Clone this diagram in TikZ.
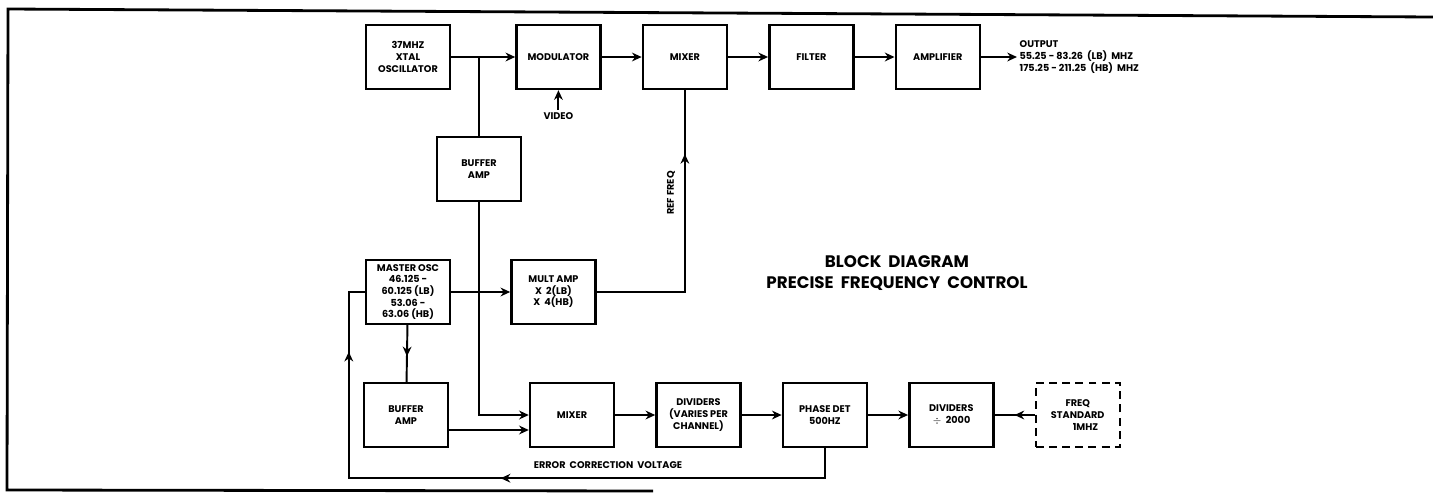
\documentclass[tikz,border=0pt]{standalone}
\usepackage{fontspec}
\setmainfont{Poppins}
\usetikzlibrary{arrows.meta,positioning,decorations.markings}
\newcommand{\boxfont}{\bfseries\fontsize{5.5}{6.6}\selectfont}
\newcommand{\titlefont}{\bfseries\fontsize{9.5}{11.5}\selectfont}

\begin{document}
\begin{tikzpicture}[x=0.02cm,y=-0.02cm,node distance=8mm,>={Stealth[length=5.5pt,width=5pt]},line width=1.1pt,
blk/.style={draw,line width=1.4pt,minimum width=1.68cm,minimum height=1.28cm,align=center,font=\boxfont,inner sep=1pt},
lbl/.style={font=\boxfont,inner sep=1pt},
title/.style={font=\titlefont,align=center},
midarrow/.style={postaction={decorate},decoration={markings,mark=at position #1 with {\arrow{>}}}},
fbarrows/.style={postaction={decorate},decoration={markings,mark=at position 0.5 with {\arrow{>}},mark=at position 0.893 with {\arrow{>}}}}]
\useasboundingbox (0,0) rectangle (1433,494);
\draw[line width=1.6pt] (1433,17) -- (8,9) -- (7,490) -- (653,491);
% top row
\node[blk] (xtal) at (408,57) {37MHZ\\XTAL\\OSCILLATOR};
\node[blk,right=1.28cm of xtal] (modul) {MODULATOR};
\node[blk,right=of modul] (mixtop) {MIXER};
\node[blk,right=of mixtop] (filter) {FILTER};
\node[blk,right=of filter] (ampl) {AMPLIFIER};
\node[lbl,align=left,right=0.72cm of ampl] (output) {OUTPUT\\55.25 - 83.26 \ (LB) \ MHZ\\175.25 - 211.25 \ (HB) \ MHZ};
% middle
\node[blk] (bufa) at (479,169) {BUFFER\\AMP};
\node[blk] (mosc) at (408,292) {MASTER OSC\\46.125 -\\60.125 (LB)\\53.06 -\\63.06 (HB)};
\node[blk,right=1.18cm of mosc] (mult) {MULT AMP\\X \ 2(LB)\\X \ 4(HB)};
% bottom row
\node[blk] (bufb) at (406,415) {BUFFER\\AMP};
\node[blk] (mixbot) at (572,415) {MIXER};
\node[blk,right=of mixbot] (divs) {DIVIDERS\\(VARIES PER\\CHANNEL)};
\node[blk,right=of divs] (phdet) {PHASE DET\\500HZ};
\node[blk,right=of phdet] (divk) {DIVIDERS\\$\div$ \ 2000};
\node[blk,dash pattern=on 4.5pt off 3pt,right=of divk] (fstd) {FREQ\\STANDARD\\\hspace*{1.6em}1MHZ};
% labels
\node[lbl,below=0.4cm of modul] (video) {VIDEO};
\node[lbl,rotate=90] (reffreq) at (671,193) {REF FREQ};
\node[lbl] (ecv) at (608,465) {ERROR \ CORRECTION \ VOLTAGE};
\node[title] (ttl) at (897,273) {BLOCK \ DIAGRAM\\PRECISE \ FREQUENCY \ CONTROL};
% connectors
\coordinate (xj) at (bufa.north |- xtal.east);
\draw[->] (xtal) -- (modul);
\draw (xj) -- (bufa.north);
\draw[->] (video) -- (modul.south);
\draw[->] (modul) -- (mixtop);
\draw[->] (mixtop) -- (filter);
\draw[->] (filter) -- (ampl);
\draw[->] (ampl) -- (output);
\draw[midarrow=0.78] (mult.east) -| (mixtop.south);
\draw[->] (mosc) -- (mult);
\draw[midarrow=0.55] (mosc) -- (bufb);
\draw[->] (bufa.south) |- (mixbot.west);
\draw[->] ([yshift=-0.3cm]bufb.east) -- ([yshift=-0.3cm]mixbot.west);
\draw[->] (mixbot) -- (divs);
\draw[->] (divs) -- (phdet);
\draw[->] (phdet) -- (divk);
\draw[midarrow=0.5] (fstd) -- (divk);
\draw[fbarrows] (phdet.south) -- ++(0,-0.6cm) -| ([xshift=-0.32cm]mosc.west) -- (mosc.west);
\end{tikzpicture}
\end{document}
